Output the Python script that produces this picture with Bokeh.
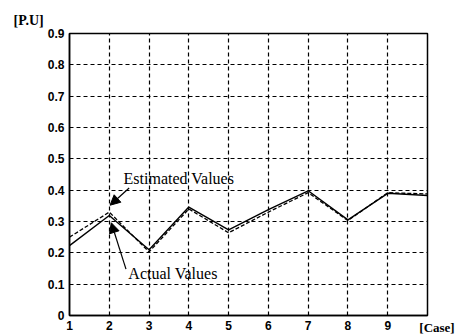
from bokeh.plotting import figure
from bokeh.models import FixedTicker, Arrow, NormalHead, Label, Range1d
from bokeh.embed import file_html
from bokeh.resources import INLINE

cases = [1, 2, 3, 4, 5, 6, 7, 8, 9, 10]
actual = [0.223, 0.319, 0.21, 0.346, 0.273, 0.338, 0.398, 0.305, 0.39, 0.383]
estimated = [0.25, 0.33, 0.203, 0.34, 0.264, 0.33, 0.392, 0.303, 0.392, 0.388]
x_ticks = [1, 2, 3, 4, 5, 6, 7, 8, 9]
y_ticks = [0, 0.1, 0.2, 0.3, 0.4, 0.5, 0.6, 0.7, 0.8, 0.9]
y_tick_labels = ["0", "0.1", "0.2", "0.3", "0.4", "0.5", "0.6", "0.7", "0.8", "0.9"]

p = figure(frame_width=358, frame_height=282, output_backend="svg", toolbar_location=None,
           x_range=Range1d(1, 10), y_range=Range1d(0, 0.9),
           min_border_left=69, min_border_right=30, min_border_top=33, min_border_bottom=20)
p.background_fill_color = "white"
p.outline_line_color = "black"
p.outline_line_width = 1.5

p.title.text = "[P.U]"
p.title.align = "left"
p.title.offset = -56
p.title.text_font = "Liberation Serif"
p.title.text_font_size = "14px"
p.title.text_font_style = "bold"
p.title.text_color = "black"
p.title.standoff = 12

for ax in (p.xaxis[0], p.yaxis[0]):
    ax.axis_line_color = "black"
    ax.axis_line_width = 1.5
    ax.major_tick_in = 0
    ax.major_tick_out = 0
    ax.minor_tick_in = 0
    ax.minor_tick_out = 0
    ax.major_label_text_font = "Liberation Sans"
    ax.major_label_text_font_size = "12px"
    ax.major_label_text_font_style = "bold"
    ax.major_label_text_color = "black"

p.xaxis.ticker = FixedTicker(ticks=x_ticks)
p.yaxis.ticker = FixedTicker(ticks=y_ticks)
p.yaxis.major_label_overrides = {t: l for t, l in zip(y_ticks, y_tick_labels)}
p.xaxis.major_label_standoff = 5
p.yaxis.major_label_standoff = 5

p.xaxis.axis_label = "\u00a0" * 116 + "[Case]"
p.xaxis.axis_label_text_font = "Liberation Serif"
p.xaxis.axis_label_text_font_size = "13px"
p.xaxis.axis_label_text_font_style = "bold"
p.xaxis.axis_label_text_color = "black"
p.xaxis.axis_label_standoff = -13

for g in (p.xgrid[0], p.ygrid[0]):
    g.grid_line_color = "black"
    g.grid_line_dash = "4 3"
    g.grid_line_width = 1.2
    g.grid_line_alpha = 1.0
p.xgrid.ticker = FixedTicker(ticks=x_ticks[1:])
p.ygrid.ticker = FixedTicker(ticks=y_ticks[1:-1])

p.line(cases, estimated, line_color="black", line_width=1.3, line_dash="4 2")
p.line(cases, actual, line_color="black", line_width=1.4)

p.add_layout(Arrow(end=NormalHead(size=10, fill_color="black", line_color="black"),
                   x_start=2.5, y_start=0.407, x_end=2.02, y_end=0.352,
                   line_color="black", line_width=1.2))
p.add_layout(Arrow(end=NormalHead(size=10, fill_color="black", line_color="black"),
                   x_start=2.42, y_start=0.148, x_end=2.05, y_end=0.296,
                   line_color="black", line_width=1.2))

p.add_layout(Label(x=2.36, y=0.437, text="Estimated Values", text_font="Liberation Serif",
                   text_font_size="16px", text_color="black", text_baseline="middle"))
p.add_layout(Label(x=2.48, y=0.135, text="Actual Values", text_font="Liberation Serif",
                   text_font_size="16px", text_color="black", text_baseline="middle"))

open("out.html", "w").write(file_html(p, INLINE))
